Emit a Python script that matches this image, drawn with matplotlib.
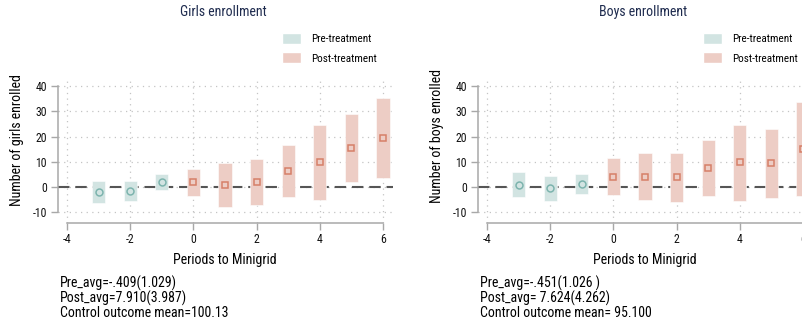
"""Event-study plots: girls and boys enrollment around minigrid arrival."""
import matplotlib
matplotlib.use("Agg")
import matplotlib.pyplot as plt
from matplotlib.patches import Patch

plt.rcParams["font.family"] = ["Roboto Condensed", "Archivo Narrow", "Liberation Sans", "DejaVu Sans"]
plt.rcParams["axes.unicode_minus"] = False

# periods relative to minigrid connection
pre_periods = [-3, -2, -1]
post_periods = [0, 1, 2, 3, 4, 5, 6]

# girls: point estimate, CI low, CI high
girls_pre_est = [-1.9, -1.5, 2.0]
girls_pre_lo = [-6.2, -5.4, -1.2]
girls_pre_hi = [2.5, 2.4, 5.2]
girls_post_est = [2.0, 0.9, 2.0, 6.5, 9.8, 15.6, 19.3]
girls_post_lo = [-3.4, -7.8, -7.3, -4.1, -5.3, 2.1, 3.4]
girls_post_hi = [7.1, 9.4, 11.0, 16.7, 24.6, 28.8, 35.1]

# boys
boys_pre_est = [0.8, -0.5, 1.2]
boys_pre_lo = [-4.1, -5.6, -2.9]
boys_pre_hi = [5.8, 4.4, 5.2]
boys_post_est = [4.1, 4.1, 3.8, 7.4, 9.7, 9.4, 15.2]
boys_post_lo = [-3.3, -5.3, -6.1, -3.7, -5.4, -4.5, -3.4]
boys_post_hi = [11.4, 13.4, 13.6, 18.5, 24.6, 23.1, 33.6]

x_ticks = [-4, -2, 0, 2, 4, 6]
y_ticks = [-10, 0, 10, 20, 30, 40]

girls_notes = ["Pre_avg=-.409(1.029)", "Post_avg=7.910(3.987)", "Control outcome mean=100.13"]
boys_notes = ["Pre_avg=-.451(1.026 )", "Post_avg= 7.624(4.262)", "Control outcome mean= 95.100"]

PRE_FILL = "#d2e4e2"
POST_FILL = "#edcdc5"
PRE_EDGE = "#7db4ae"
POST_EDGE = "#d67f68"
TITLE_COLOR = "#1e2b4e"
AXIS_GRAY = "#a8a8a8"

W, H = 802, 327
fig = plt.figure(figsize=(W / 100, H / 100), dpi=100)


def draw_panel(left_px, title, ylabel, pre, post, notes, legend_px, ylabel_xy):
    ax = fig.add_axes([left_px / W, (H - 223) / H, 335 / W, 146 / H])
    ax.set_xlim(-4.3, 6.3)
    ax.set_ylim(-14.3, 43.6)

    ax.grid(True, linestyle=(0, (1, 3.5)), color="#c4c4c4", linewidth=0.9)
    ax.set_axisbelow(True)
    ax.axhline(0, color="#555555", linewidth=1.5, dashes=(5.5, 2.8), zorder=2)

    for periods, (est, lo, hi), fill, edge, marker in (
        (pre_periods, pre, PRE_FILL, PRE_EDGE, "o"),
        (post_periods, post, POST_FILL, POST_EDGE, "s"),
    ):
        heights = [h - l for l, h in zip(lo, hi)]
        ax.bar(periods, heights, bottom=lo, width=0.42, color=fill,
               edgecolor="white", linewidth=0.4, zorder=3)
        ax.plot(periods, est, linestyle="none", marker=marker, markersize=5,
                markerfacecolor="none", markeredgecolor=edge, markeredgewidth=1.1,
                zorder=4)

    for side in ("top", "right"):
        ax.spines[side].set_visible(False)
    ax.spines["left"].set_bounds(-10, 40)
    ax.spines["bottom"].set_bounds(-4, 6)
    for side in ("left", "bottom"):
        ax.spines[side].set_color(AXIS_GRAY)
        ax.spines[side].set_linewidth(1.1)

    ax.set_xticks(x_ticks)
    ax.set_yticks(y_ticks)
    ax.tick_params(direction="out", length=5, width=1.0, color=AXIS_GRAY,
                   labelsize=8.5, labelcolor="#111111", pad=2.5)
    ax.set_xlabel("Periods to Minigrid", fontsize=10, labelpad=5)

    fig.text((left_px + 166) / W, 1 - 12 / H, title, ha="center", va="center",
             fontsize=10, color=TITLE_COLOR)
    fig.text(ylabel_xy[0] / W, 1 - ylabel_xy[1] / H, ylabel, rotation=90,
             ha="center", va="center", fontsize=10)

    handles = [Patch(facecolor=PRE_FILL, edgecolor="white", label="Pre-treatment"),
               Patch(facecolor=POST_FILL, edgecolor="white", label="Post-treatment")]
    fig.legend(handles=handles, loc="upper left",
               bbox_to_anchor=(legend_px[0] / W, 1 - legend_px[1] / H),
               frameon=False, fontsize=8, handlelength=1.75, handleheight=1.1,
               handletextpad=0.95, labelspacing=0.75, borderpad=0, borderaxespad=0)

    for i, line in enumerate(notes):
        fig.text((left_px + 2.5) / W, 1 - (283 + 15 * i) / H, line,
                 ha="left", va="center", fontsize=10)
    return ax


draw_panel(57.5, "Girls enrollment", "Number of girls enrolled",
           (girls_pre_est, girls_pre_lo, girls_pre_hi),
           (girls_post_est, girls_post_lo, girls_post_hi),
           girls_notes, (281.5, 33), (17, 140))
draw_panel(477.5, "Boys enrollment", "Number of boys enrolled",
           (boys_pre_est, boys_pre_lo, boys_pre_hi),
           (boys_post_est, boys_post_lo, boys_post_hi),
           boys_notes, (702.5, 33), (437.5, 136))

fig.savefig("out.png", dpi=100)
